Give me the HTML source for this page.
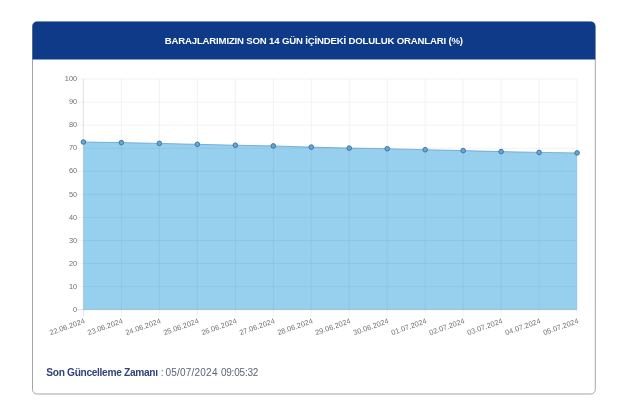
<!DOCTYPE html>
<html lang="tr">
<head>
<meta charset="utf-8">
<title>Baraj Doluluk Oranları</title>
<style>
html,body{margin:0;padding:0;background:#fff;}
body{width:640px;height:406px;overflow:hidden;position:relative;font-family:"Liberation Sans",Arial,sans-serif;}
.head{position:absolute;left:32.1px;top:21.3px;width:563.4px;height:37.5px;color:#fff;font-weight:bold;font-size:9.6px;line-height:40.9px;text-align:center;letter-spacing:-0.17px;white-space:nowrap;}
.foot{position:absolute;left:0;top:366.7px;font-size:9.9px;line-height:14px;color:#5b6478;white-space:nowrap;}
.foot span,.foot b{position:absolute;top:-0.55px;}
.foot b{left:46.3px;top:-0.6px;color:#33437a;font-weight:bold;font-size:10.2px;letter-spacing:-0.33px;}
#c{left:160.8px;font-size:10px;}
#d{left:165.6px;letter-spacing:0.2px;font-size:10px;}
#t{left:220.9px;letter-spacing:-0.2px;font-size:10px;}
.chart{position:absolute;left:0;top:0;}
</style>
</head>
<body>
<svg class="chart" width="640" height="406" viewBox="0 0 640 406">
<rect x="32.5" y="21.6" width="562.8" height="372.4" rx="4.4" ry="4.4" fill="#fff" stroke="#9ba2a6" stroke-width="0.95"/>
<path d="M32.45,59.4 V26.05 A4.4,4.4 0 0 1 36.85,21.65 H590.90 A4.4,4.4 0 0 1 595.3,26.05 V59.4 Z" fill="#0f3a88"/>
<polygon points="83.40,309.70 83.40,142.00 121.38,142.60 159.35,143.40 197.33,144.30 235.31,145.20 273.28,145.90 311.26,147.10 349.24,148.10 387.22,148.70 425.19,149.70 463.17,150.60 501.15,151.60 539.12,152.40 577.10,152.90 577.10,309.70" fill="#97d0ee"/>
<g stroke-width="0.625"><line x1="77.15" y1="79.00" x2="577.10" y2="79.00" stroke="rgba(0,0,0,0.085)"/><line x1="77.15" y1="102.07" x2="577.10" y2="102.07" stroke="rgba(0,0,0,0.085)"/><line x1="77.15" y1="125.14" x2="577.10" y2="125.14" stroke="rgba(0,0,0,0.085)"/><line x1="77.15" y1="148.21" x2="577.10" y2="148.21" stroke="rgba(0,0,0,0.085)"/><line x1="77.15" y1="171.28" x2="577.10" y2="171.28" stroke="rgba(0,0,0,0.085)"/><line x1="77.15" y1="194.35" x2="577.10" y2="194.35" stroke="rgba(0,0,0,0.085)"/><line x1="77.15" y1="217.42" x2="577.10" y2="217.42" stroke="rgba(0,0,0,0.085)"/><line x1="77.15" y1="240.49" x2="577.10" y2="240.49" stroke="rgba(0,0,0,0.085)"/><line x1="77.15" y1="263.56" x2="577.10" y2="263.56" stroke="rgba(0,0,0,0.085)"/><line x1="77.15" y1="286.63" x2="577.10" y2="286.63" stroke="rgba(0,0,0,0.085)"/><line x1="77.15" y1="309.70" x2="577.10" y2="309.70" stroke="rgba(0,0,0,0.2)"/><line x1="83.40" y1="79.00" x2="83.40" y2="315.95" stroke="rgba(0,0,0,0.2)"/><line x1="121.38" y1="79.00" x2="121.38" y2="315.95" stroke="rgba(0,0,0,0.085)"/><line x1="159.35" y1="79.00" x2="159.35" y2="315.95" stroke="rgba(0,0,0,0.085)"/><line x1="197.33" y1="79.00" x2="197.33" y2="315.95" stroke="rgba(0,0,0,0.085)"/><line x1="235.31" y1="79.00" x2="235.31" y2="315.95" stroke="rgba(0,0,0,0.085)"/><line x1="273.28" y1="79.00" x2="273.28" y2="315.95" stroke="rgba(0,0,0,0.085)"/><line x1="311.26" y1="79.00" x2="311.26" y2="315.95" stroke="rgba(0,0,0,0.085)"/><line x1="349.24" y1="79.00" x2="349.24" y2="315.95" stroke="rgba(0,0,0,0.085)"/><line x1="387.22" y1="79.00" x2="387.22" y2="315.95" stroke="rgba(0,0,0,0.085)"/><line x1="425.19" y1="79.00" x2="425.19" y2="315.95" stroke="rgba(0,0,0,0.085)"/><line x1="463.17" y1="79.00" x2="463.17" y2="315.95" stroke="rgba(0,0,0,0.085)"/><line x1="501.15" y1="79.00" x2="501.15" y2="315.95" stroke="rgba(0,0,0,0.085)"/><line x1="539.12" y1="79.00" x2="539.12" y2="315.95" stroke="rgba(0,0,0,0.085)"/><line x1="577.10" y1="79.00" x2="577.10" y2="315.95" stroke="rgba(0,0,0,0.085)"/></g>
<polyline points="83.40,142.00 121.38,142.60 159.35,143.40 197.33,144.30 235.31,145.20 273.28,145.90 311.26,147.10 349.24,148.10 387.22,148.70 425.19,149.70 463.17,150.60 501.15,151.60 539.12,152.40 577.10,152.90" fill="none" stroke="#4f93c6" stroke-width="0.65"/>
<circle cx="83.40" cy="142.00" r="2.3" fill="#6aa5d2" stroke="#3673a6" stroke-width="0.95"/>
<circle cx="121.38" cy="142.60" r="2.3" fill="#6aa5d2" stroke="#3673a6" stroke-width="0.95"/>
<circle cx="159.35" cy="143.40" r="2.3" fill="#6aa5d2" stroke="#3673a6" stroke-width="0.95"/>
<circle cx="197.33" cy="144.30" r="2.3" fill="#6aa5d2" stroke="#3673a6" stroke-width="0.95"/>
<circle cx="235.31" cy="145.20" r="2.3" fill="#6aa5d2" stroke="#3673a6" stroke-width="0.95"/>
<circle cx="273.28" cy="145.90" r="2.3" fill="#6aa5d2" stroke="#3673a6" stroke-width="0.95"/>
<circle cx="311.26" cy="147.10" r="2.3" fill="#6aa5d2" stroke="#3673a6" stroke-width="0.95"/>
<circle cx="349.24" cy="148.10" r="2.3" fill="#6aa5d2" stroke="#3673a6" stroke-width="0.95"/>
<circle cx="387.22" cy="148.70" r="2.3" fill="#6aa5d2" stroke="#3673a6" stroke-width="0.95"/>
<circle cx="425.19" cy="149.70" r="2.3" fill="#6aa5d2" stroke="#3673a6" stroke-width="0.95"/>
<circle cx="463.17" cy="150.60" r="2.3" fill="#6aa5d2" stroke="#3673a6" stroke-width="0.95"/>
<circle cx="501.15" cy="151.60" r="2.3" fill="#6aa5d2" stroke="#3673a6" stroke-width="0.95"/>
<circle cx="539.12" cy="152.40" r="2.3" fill="#6aa5d2" stroke="#3673a6" stroke-width="0.95"/>
<circle cx="577.10" cy="152.90" r="2.3" fill="#6aa5d2" stroke="#3673a6" stroke-width="0.95"/>
<g font-family="'Liberation Sans', Arial, sans-serif" font-size="7.4" fill="#707070">
<text x="77.2" y="81.05" text-anchor="end">100</text>
<text x="77.2" y="104.14" text-anchor="end">90</text>
<text x="77.2" y="127.24" text-anchor="end">80</text>
<text x="77.2" y="150.33" text-anchor="end">70</text>
<text x="77.2" y="173.43" text-anchor="end">60</text>
<text x="77.2" y="196.52" text-anchor="end">50</text>
<text x="77.2" y="219.62" text-anchor="end">40</text>
<text x="77.2" y="242.71" text-anchor="end">30</text>
<text x="77.2" y="265.81" text-anchor="end">20</text>
<text x="77.2" y="288.90" text-anchor="end">10</text>
<text x="77.2" y="312.00" text-anchor="end">0</text>
<text transform="translate(85.40,322.95) rotate(-19.5)" text-anchor="end">22.06.2024</text>
<text transform="translate(123.38,322.95) rotate(-19.5)" text-anchor="end">23.06.2024</text>
<text transform="translate(161.35,322.95) rotate(-19.5)" text-anchor="end">24.06.2024</text>
<text transform="translate(199.33,322.95) rotate(-19.5)" text-anchor="end">25.06.2024</text>
<text transform="translate(237.31,322.95) rotate(-19.5)" text-anchor="end">26.06.2024</text>
<text transform="translate(275.28,322.95) rotate(-19.5)" text-anchor="end">27.06.2024</text>
<text transform="translate(313.26,322.95) rotate(-19.5)" text-anchor="end">28.06.2024</text>
<text transform="translate(351.24,322.95) rotate(-19.5)" text-anchor="end">29.06.2024</text>
<text transform="translate(389.22,322.95) rotate(-19.5)" text-anchor="end">30.06.2024</text>
<text transform="translate(427.19,322.95) rotate(-19.5)" text-anchor="end">01.07.2024</text>
<text transform="translate(465.17,322.95) rotate(-19.5)" text-anchor="end">02.07.2024</text>
<text transform="translate(503.15,322.95) rotate(-19.5)" text-anchor="end">03.07.2024</text>
<text transform="translate(541.12,322.95) rotate(-19.5)" text-anchor="end">04.07.2024</text>
<text transform="translate(579.10,322.95) rotate(-19.5)" text-anchor="end">05.07.2024</text>
</g>
</svg>
<div class="head"><span id="title">BARAJLARIMIZIN SON 14 GÜN İÇİNDEKİ DOLULUK ORANLARI (%)</span></div>
<div class="foot" id="foot"><b id="fb">Son Güncelleme Zamanı</b><span id="c">:</span><span id="d">05/07/2024</span><span id="t">09:05:32</span></div>
</body>
</html>
